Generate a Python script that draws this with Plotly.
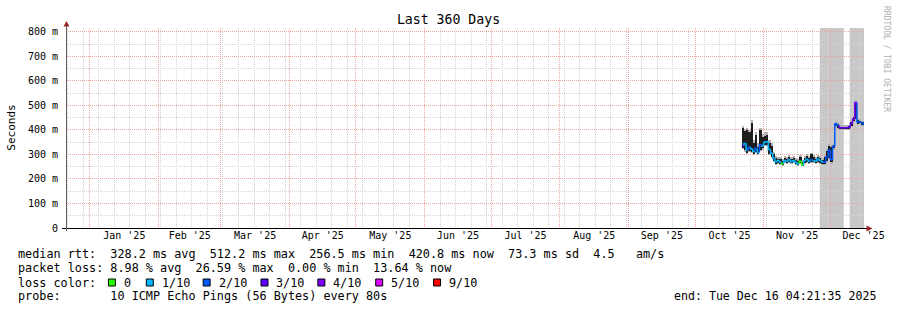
import plotly.graph_objects as go
import pandas as pd

# ---------------- data ----------------
start_day = "2025-10-22"
median_ms = [335, 345, 318, 330, 322, 312, 325, 308, 340, 335,
             350, 352, 320, 305, 285, 270, 275, 268, 262, 275,
             272, 278, 270, 275, 268, 262, 272, 258, 275, 280,
             272, 278, 275, 272, 282, 275, 270, 268, 290, 318,
             278, 334, 425, 418, 410, 409, 409, 409, 410, 425,
             445, 512, 432, 433, 428, 422]
smoke_lo = [328, 320, 305, 315, 310, 303, 310, 300, 320, 325,
            340, 340, 300, 290, 275, 262, 265, 262, 258, 268,
            265, 270, 265, 268, 262, 258, 265, 255, 265, 270,
            266, 268, 268, 265, 270, 265, 262, 260, 275, 285,
            268, 326, 415, 410, 404, 404, 404, 404, 405, 418,
            438, 445, 426, 428, 422, 416]
smoke_hi = [410, 395, 400, 390, 430, 345, 380, 330, 400, 370,
            375, 378, 345, 335, 300, 285, 280, 282, 272, 285,
            280, 290, 282, 285, 278, 275, 290, 270, 285, 295,
            285, 300, 290, 282, 290, 285, 278, 290, 315, 335,
            330, 340, 430, 425, 414, 414, 414, 414, 415, 432,
            452, 516, 442, 438, 432, 428]
smoke2_lo = [322, 312, 300, 310, 305, 298, 305, 296, 315, 320,
             335, 335, 296, 285, 270, 258, 260, 258, 254, 264,
             262, 266, 262, 264, 258, 255, 262, 252, 262, 266,
             262, 264, 264, 262, 266, 262, 258, 256, 270, 280,
             262, 320, 410, 405, 400, 400, 400, 400, 401, 413,
             433, 440, 421, 423, 418, 412]
smoke2_hi = [418, 405, 410, 400, 440, 360, 390, 345, 410, 385,
             390, 392, 360, 345, 310, 292, 288, 290, 280, 292,
             288, 298, 290, 292, 286, 282, 298, 278, 292, 302,
             292, 308, 298, 290, 298, 292, 286, 298, 322, 342,
             338, 348, 436, 432, 419, 419, 419, 419, 420, 438,
             458, 521, 448, 444, 438, 433]
loss_tenths = [3, 1, 1, 2, 1, 1, 2, 1, 2, 1,
               1, 1, 1, 1, 1, 1, 1, 1, 0, 1,
               1, 1, 1, 1, 1, 1, 0, 0, 1, 1,
               1, 2, 1, 1, 1, 1, 1, 2, 2, 2,
               2, 2, 2, 2, 3, 3, 3, 4, 3, 3,
               4, 4, 2, 2, 2, 2]

unknown_start = ["2025-11-26 05:30", "2025-12-09 17:30"]
unknown_end = ["2025-12-07 01:00", "2025-12-16 04:21"]

range_start = "2024-12-21 04:21:35"
range_end = "2025-12-16 04:21:35"

y_tick_vals = [0, 100, 200, 300, 400, 500, 600, 700, 800]
y_tick_text = ["0", "100 m", "200 m", "300 m", "400 m", "500 m", "600 m", "700 m", "800 m"]

loss_levels = [0, 1, 2, 3, 4, 5, 9]
loss_labels = ["0", "1/10", "2/10", "3/10", "4/10", "5/10", "9/10"]
loss_colors = ["#26ff00", "#00b8ff", "#0059ff", "#5e00ff", "#7e00ff", "#dd00ff", "#ff0000"]

stats_line1 = "median rtt:  328.2 ms avg  512.2 ms max  256.5 ms min  420.8 ms now  73.3 ms sd  4.5   am/s"
stats_line2 = "packet loss: 8.98 % avg  26.59 % max  0.00 % min  13.64 % now"
probe_line = "probe:       10 ICMP Echo Pings (56 Bytes) every 80s"
end_line = "end: Tue Dec 16 04:21:35 2025"

# ---------------- geometry helpers ----------------
W, H = 897, 310
L, R, T, B = 66, 31, 28, 82
PW, PH = W - L - R, H - T - B


def ax(px):
    return (px - L) / PW


def ay(py):
    return (H - B - py) / PH


def nb(s):
    return s.replace(" ", "\u00a0")


MONO = "DejaVu Sans Mono"

days = pd.date_range(start_day, periods=len(median_ms), freq="D")
centers = days + pd.Timedelta(hours=12)
day_ms = 86400000

fig = go.Figure()

# light smoke
fig.add_trace(go.Bar(
    x=centers, base=smoke2_lo,
    y=[h - l for h, l in zip(smoke2_hi, smoke2_lo)],
    width=day_ms, marker=dict(color="#b4b4b4", line=dict(width=0)),
    hoverinfo="skip", showlegend=False))
# dark smoke
fig.add_trace(go.Bar(
    x=centers, base=smoke_lo,
    y=[h - l for h, l in zip(smoke_hi, smoke_lo)],
    width=day_ms, marker=dict(color="#1e1e1e", line=dict(width=0)),
    hoverinfo="skip", showlegend=False))

# median, coloured by loss
for lvl, col in zip(loss_levels, loss_colors):
    xs, ys = [], []
    for i, (d, m, ls) in enumerate(zip(days, median_ms, loss_tenths)):
        if ls != lvl:
            continue
        prev = median_ms[i - 1] if i > 0 else m
        xs += [d, d, d + pd.Timedelta(days=1), None]
        ys += [prev, m, m, None]
    if xs:
        fig.add_trace(go.Scatter(x=xs, y=ys, mode="lines",
                                 line=dict(color=col, width=1.5),
                                 hoverinfo="skip", showlegend=False))

shapes = []
# unknown (gray) periods
for s, e in zip(unknown_start, unknown_end):
    shapes.append(dict(type="rect", xref="x", yref="paper", x0=s, x1=e, y0=0, y1=1,
                       fillcolor="#c8c8c8", line=dict(width=0), layer="below"))
# axis lines
shapes.append(dict(type="line", xref="paper", yref="paper",
                   x0=ax(62), x1=ax(869), y0=ay(228.5), y1=ay(228.5),
                   line=dict(color="#000000", width=1)))
shapes.append(dict(type="line", xref="paper", yref="paper",
                   x0=ax(66.5), x1=ax(66.5), y0=ay(231), y1=ay(25),
                   line=dict(color="#606060", width=1)))
# arrows
shapes.append(dict(type="path", xref="paper", yref="paper",
                   path=f"M {ax(63.5)} {ay(26.5)} L {ax(69.5)} {ay(26.5)} L {ax(66.5)} {ay(21)} Z",
                   fillcolor="#992222", line=dict(width=0)))
shapes.append(dict(type="path", xref="paper", yref="paper",
                   path=f"M {ax(868.5)} {ay(225.5)} L {ax(868.5)} {ay(231.5)} L {ax(874.5)} {ay(228.5)} Z",
                   fillcolor="#992222", line=dict(width=0)))

annotations = []
FS = 11.8
row_y = [254.3, 268.3, 282.6, 296.2]
annotations.append(dict(text=nb(stats_line1), x=ax(16), y=ay(row_y[0])))
annotations.append(dict(text=nb(stats_line2), x=ax(16), y=ay(row_y[1])))
annotations.append(dict(text=nb("loss color:"), x=ax(16), y=ay(row_y[2])))
annotations.append(dict(text=nb(probe_line), x=ax(16), y=ay(row_y[3])))
box_x = [108, 146, 203, 261, 318, 376, 434]
for bx, lab, col in zip(box_x, loss_labels, loss_colors):
    shapes.append(dict(type="rect", xref="paper", yref="paper",
                       x0=ax(bx + 0.5), x1=ax(bx + 7.5), y0=ay(286), y1=ay(279),
                       fillcolor=col, line=dict(color="#000000", width=1)))
    annotations.append(dict(text=lab, x=ax(bx + 14), y=ay(row_y[2])))
for a in annotations:
    a.update(xref="paper", yref="paper", xanchor="left", yanchor="middle",
             showarrow=False, font=dict(family=MONO, size=FS, color="#000000"))
annotations.append(dict(text=nb(end_line), x=ax(880.5), y=ay(row_y[3]), xref="paper", yref="paper",
                        xanchor="right", yanchor="middle", showarrow=False,
                        font=dict(family=MONO, size=11.6, color="#000000")))
annotations.append(dict(text="Seconds", x=ax(10.5), y=ay(128), xref="paper", yref="paper",
                        xanchor="center", yanchor="middle", textangle=-90, showarrow=False,
                        font=dict(family=MONO, size=11, color="#000000")))
annotations.append(dict(text=nb("RRDTOOL / TOBI OETIKER"), x=ax(889), y=ay(59), xref="paper", yref="paper",
                        xanchor="center", yanchor="middle", textangle=90, showarrow=False,
                        font=dict(family=MONO, size=8, color="#b0b0b0")))

GRID_DOT = "1px,1px"

fig.update_layout(
    width=W, height=H,
    margin=dict(l=L, r=R, t=T, b=B, pad=0),
    paper_bgcolor="#ffffff", plot_bgcolor="#ffffff",
    barmode="overlay", bargap=0,
    showlegend=False,
    title=dict(text="Last 360 Days", x=0.5, xref="container", xanchor="center",
               y=1 - 19.5 / H, yref="container", yanchor="middle",
               font=dict(family=MONO, size=13.2, color="#000000")),
    xaxis=dict(
        type="date", range=[range_start, range_end],
        tick0="2025-01-01", dtick="M1", ticklabelmode="period",
        tickformat="%b '%y", showgrid=True, gridcolor="#f2a0a0", griddash=GRID_DOT, gridwidth=1,
        ticks="", showline=False, zeroline=False,
        tickfont=dict(family=MONO, size=10, color="#000000"),
        minor=dict(tick0="2024-12-22", dtick=7 * day_ms, showgrid=True,
                   gridcolor="#d4d4d4", griddash=GRID_DOT, gridwidth=1, ticks=""),
    ),
    yaxis=dict(
        range=[0, 816], tickvals=y_tick_vals, ticktext=y_tick_text,
        showgrid=True, gridcolor="#f2a0a0", griddash=GRID_DOT, gridwidth=1,
        ticks="outside", ticklen=5, tickcolor="rgba(0,0,0,0)",
        showline=False, zeroline=False,
        tickfont=dict(family=MONO, size=10, color="#000000"),
        minor=dict(tick0=0, dtick=50, showgrid=True, gridcolor="#d4d4d4",
                   griddash=GRID_DOT, gridwidth=1, ticks=""),
    ),
    shapes=shapes,
    annotations=annotations,
)

fig.write_html("out.html")
